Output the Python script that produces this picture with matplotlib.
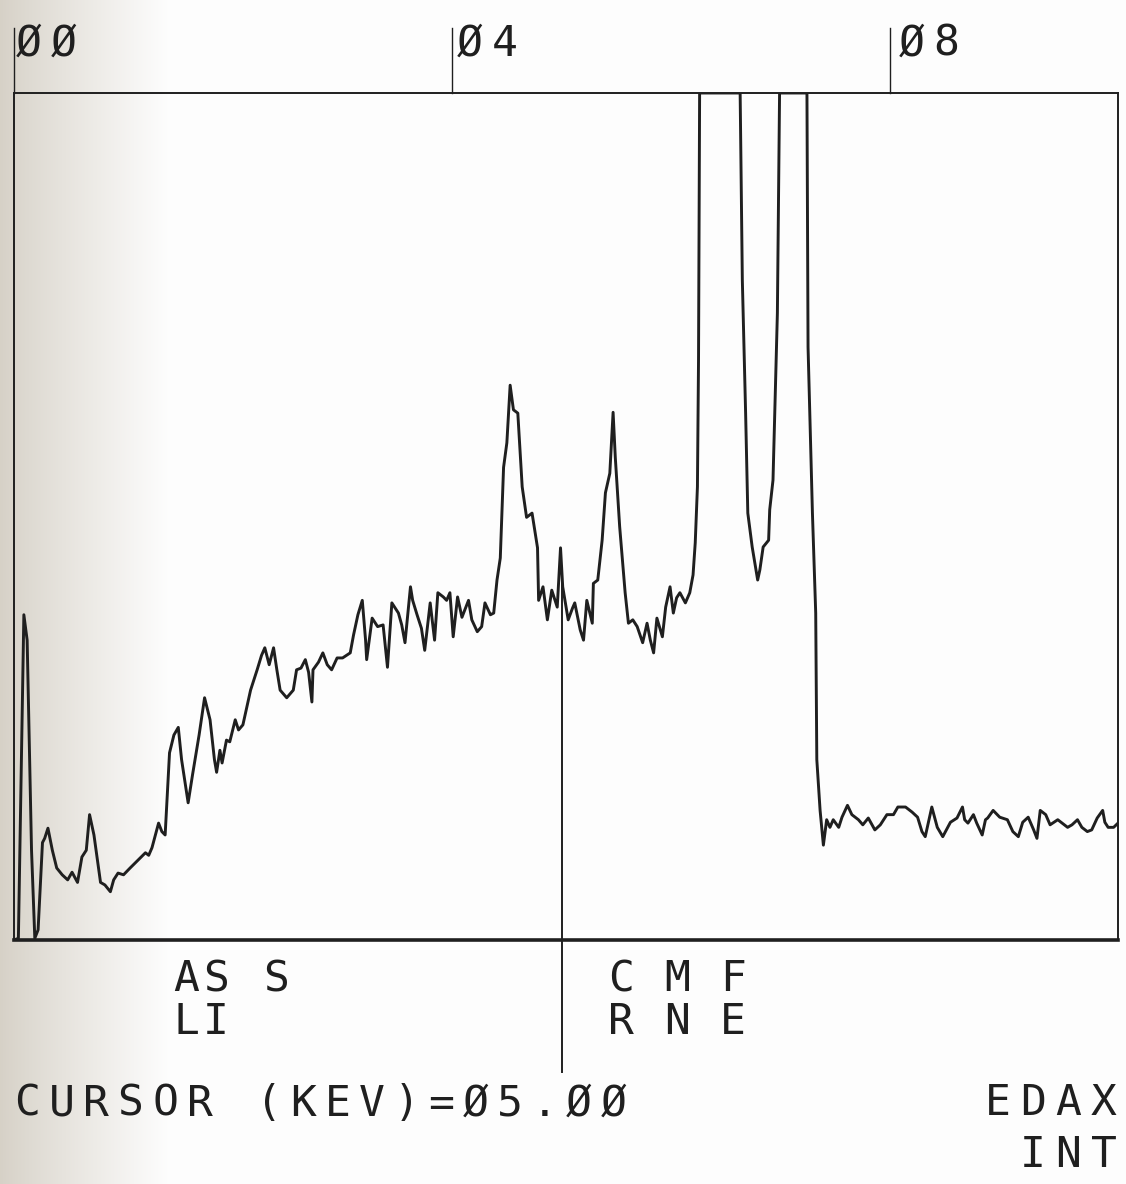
import numpy as np
import matplotlib
matplotlib.use("Agg")
import matplotlib.pyplot as plt

# EDAX spectrum: energy (keV) vs counts (% of full scale)
energy_kev = [
    0.00, 0.04, 0.09, 0.12, 0.16, 0.19, 0.22, 0.26, 0.28, 0.31,
    0.35, 0.39, 0.44, 0.49, 0.53, 0.58, 0.62, 0.66, 0.69, 0.73,
    0.79, 0.83, 0.88, 0.91, 0.95, 1.00, 1.06, 1.13, 1.20, 1.23,
    1.26, 1.32, 1.35, 1.38, 1.42, 1.46, 1.50, 1.53, 1.59, 1.63,
    1.69, 1.74, 1.79, 1.83, 1.85, 1.88, 1.90, 1.94, 1.97, 2.02,
    2.05, 2.09, 2.16, 2.22, 2.26, 2.29, 2.33, 2.37, 2.40, 2.43,
    2.49, 2.55, 2.58, 2.62, 2.66, 2.69, 2.72, 2.73, 2.78, 2.82,
    2.86, 2.90, 2.95, 3.00, 3.07, 3.10, 3.14, 3.18, 3.21, 3.22,
    3.27, 3.32, 3.37, 3.41, 3.45, 3.51, 3.54, 3.57, 3.62, 3.64,
    3.68, 3.72, 3.75, 3.80, 3.84, 3.87, 3.92, 3.95, 3.98, 4.01,
    4.05, 4.09, 4.15, 4.18, 4.23, 4.27, 4.30, 4.35, 4.38, 4.41,
    4.44, 4.47, 4.50, 4.53, 4.56, 4.60, 4.64, 4.68, 4.73, 4.78,
    4.79, 4.83, 4.87, 4.91, 4.96, 4.99, 5.01, 5.06, 5.10, 5.12,
    5.17, 5.20, 5.23, 5.28, 5.29, 5.33, 5.37, 5.40, 5.44, 5.47,
    5.49, 5.53, 5.58, 5.61, 5.65, 5.69, 5.74, 5.78, 5.81, 5.84,
    5.87, 5.92, 5.95, 5.99, 6.02, 6.05, 6.08, 6.13, 6.17, 6.20,
    6.22, 6.24, 6.25, 6.26, 6.63, 6.65, 6.68, 6.70, 6.74, 6.79,
    6.81, 6.84, 6.89, 6.90, 6.93, 6.97, 6.99, 7.24, 7.25, 7.29,
    7.32, 7.33, 7.36, 7.39, 7.42, 7.45, 7.48, 7.53, 7.56, 7.61,
    7.65, 7.71, 7.75, 7.80, 7.86, 7.91, 7.97, 8.03, 8.07, 8.14,
    8.20, 8.25, 8.29, 8.32, 8.38, 8.43, 8.48, 8.55, 8.61, 8.66,
    8.68, 8.71, 8.76, 8.79, 8.84, 8.87, 8.89, 8.94, 9.00, 9.07,
    9.12, 9.17, 9.21, 9.26, 9.31, 9.34, 9.37, 9.42, 9.46, 9.53,
    9.57, 9.62, 9.66, 9.71, 9.75, 9.80, 9.84, 9.89, 9.94, 9.96,
    9.99, 10.04, 10.08,
]
counts = [
    0.0, 0.2, 38.4, 35.4, 10.6, 0.2, 1.2, 11.5, 12.0, 13.2,
    10.6, 8.5, 7.7, 7.1, 8.0, 6.8, 9.8, 10.6, 14.8, 12.4,
    6.8, 6.5, 5.7, 7.1, 7.9, 7.7, 8.5, 9.4, 10.3, 10.0,
    10.9, 13.8, 12.8, 12.4, 22.1, 24.2, 25.1, 21.3, 16.2, 19.5,
    24.2, 28.6, 26.0, 21.3, 19.8, 22.4, 20.9, 23.6, 23.4, 26.0,
    24.8, 25.4, 29.5, 31.9, 33.6, 34.5, 32.5, 34.5, 31.9, 29.5,
    28.6, 29.5, 31.9, 32.1, 33.1, 31.6, 28.1, 31.9, 32.8, 33.9,
    32.5, 31.9, 33.3, 33.3, 33.9, 36.0, 38.4, 40.1, 35.4, 33.1,
    38.0, 37.0, 37.2, 32.2, 39.8, 38.6, 37.2, 35.1, 41.7, 40.1,
    38.4, 36.8, 34.2, 39.8, 35.4, 41.0, 40.5, 40.1, 41.0, 35.8,
    40.5, 38.1, 40.1, 37.8, 36.4, 37.0, 39.8, 38.4, 38.6, 42.5,
    45.1, 55.8, 58.7, 65.5, 62.6, 62.2, 53.5, 49.9, 50.4, 46.3,
    40.1, 41.7, 37.8, 41.3, 39.3, 46.3, 41.7, 37.8, 39.2, 39.8,
    36.6, 35.4, 40.1, 37.4, 42.1, 42.5, 47.2, 52.8, 55.1, 62.3,
    57.0, 48.8, 41.0, 37.4, 37.8, 37.0, 35.1, 37.4, 35.4, 33.9,
    38.0, 35.8, 39.3, 41.7, 38.6, 40.4, 41.0, 39.8, 41.0, 43.1,
    46.9, 53.5, 68.5, 100, 100, 77.9, 62.2, 50.4, 46.4, 42.5,
    43.7, 46.4, 47.2, 50.8, 54.3, 74.0, 100, 100, 70.0, 50.4,
    38.6, 21.3, 15.3, 11.2, 14.2, 13.3, 14.2, 13.3, 14.5, 15.9,
    14.8, 14.2, 13.6, 14.4, 13.0, 13.6, 14.8, 14.8, 15.7, 15.7,
    15.1, 14.5, 12.8, 12.2, 15.7, 13.3, 12.2, 13.9, 14.4, 15.7,
    14.2, 13.8, 14.8, 13.8, 12.4, 14.2, 14.4, 15.3, 14.5, 14.2,
    12.8, 12.2, 13.9, 14.5, 13.0, 12.0, 15.3, 14.8, 13.6, 14.2,
    13.8, 13.3, 13.6, 14.2, 13.3, 12.8, 13.0, 14.4, 15.3, 13.9,
    13.3, 13.3, 13.8,
]
tick_kev = [0, 4, 8]
tick_labels = ["ØØ", "Ø4", "Ø8"]
cursor_kev = 5.00
element_rows = [("AS S", "LI"), ("C M F", "R N E")]

W, H = 1126, 1184
INK = "#1f1f1f"
fig = plt.figure(figsize=(W / 100, H / 100), dpi=100)

# scanned-page shading on the left edge
bg = fig.add_axes([0, 0, 1, 1], zorder=-5)
grad = np.ones((2, W, 3))
fade = np.clip(np.arange(W) / 170.0, 0, 1) ** 0.9
for k, c0 in enumerate((0.84, 0.82, 0.78)):
    grad[:, :, k] = c0 + (0.995 - c0) * fade
bg.imshow(grad, aspect="auto", extent=(0, W, 0, H))
bg.set_axis_off()

ax = fig.add_axes([14 / W, 1 - 940 / H, 1104 / W, 847 / H])
ax.set_facecolor("none")
ax.plot(energy_kev, counts, color=INK, lw=2.1, solid_joinstyle="round")
ax.set_xlim(0, 10.08)
ax.set_ylim(0, 100)
ax.set_xticks([]); ax.set_yticks([])
for side in ("left", "right", "top"):
    ax.spines[side].set_linewidth(1.4)
    ax.spines[side].set_color(INK)
ax.spines["bottom"].set_linewidth(2.6)
ax.spines["bottom"].set_color(INK)

# energy markers above the frame
trans = ax.get_xaxis_transform()
for t in tick_kev:
    ax.plot([t, t], [1.0, 1.077], transform=trans, color=INK, lw=1.0, clip_on=False)

# cursor line
y_cur = np.interp(cursor_kev, energy_kev, counts) / 100
ax.plot([cursor_kev, cursor_kev], [-0.156, y_cur], transform=trans, color=INK, lw=1.4,
        clip_on=False)


def plotter_text(x_px, y_px, s, pitch=34.5, size=31):
    # one glyph per fixed-width cell, like the EDAX plotter; x_px = centre of first cell
    for i, ch in enumerate(s):
        if ch != " ":
            fig.text((x_px + i * pitch) / W, 1 - y_px / H, ch, fontsize=size,
                     family="DejaVu Sans Mono", color=INK, ha="center", va="baseline")


for lab, xp in zip(tick_labels, (29, 470, 912)):
    plotter_text(xp, 56, lab)

plotter_text(186, 991, element_rows[0][0], pitch=30)
plotter_text(186, 1034, element_rows[0][1], pitch=30)
plotter_text(621, 991, element_rows[1][0], pitch=28)
plotter_text(621, 1034, element_rows[1][1], pitch=28)

plotter_text(27, 1116, "CURSOR (KEV)=Ø%s" % f"{cursor_kev:.2f}".replace("0", "Ø"))
plotter_text(998, 1115, "EDAX", pitch=35.3)
plotter_text(1033, 1167, "INT", pitch=35.3)

fig.savefig("out.png", dpi=100)
